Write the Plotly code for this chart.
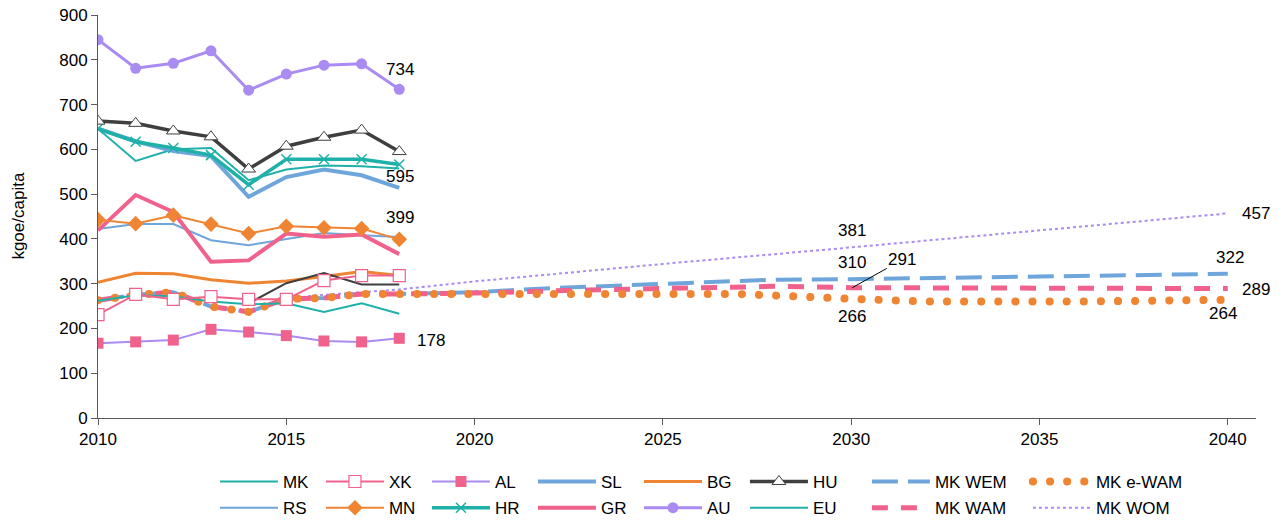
import plotly.graph_objects as go

# historical years 2010-2018
years = [2010, 2011, 2012, 2013, 2014, 2015, 2016, 2017, 2018]

mk = [262, 274, 272, 260, 254, 256, 237, 256, 233]
xk = [231, 276, 265, 271, 265, 265, 307, 318, 318]
al = [167, 170, 174, 198, 192, 184, 172, 170, 178]
sl = [646, 618, 596, 585, 494, 538, 555, 542, 514]
bg = [303, 323, 322, 309, 301, 306, 316, 327, 318]
hu = [663, 658, 641, 628, 556, 607, 627, 643, 595]
rs = [422, 433, 433, 397, 386, 399, 413, 408, 404]
mn = [443, 434, 453, 433, 412, 428, 425, 423, 399]
hr = [646, 617, 603, 587, 521, 578, 578, 578, 566]
gr = [419, 498, 460, 349, 352, 412, 405, 410, 366]
au = [845, 781, 792, 820, 732, 768, 788, 791, 734]
eu = [646, 574, 600, 603, 531, 555, 564, 562, 557]

# unlabelled thin dark line
extra_years = [2014, 2015, 2016, 2017, 2018]
extra = [256, 301, 324, 298, 298]

# MK scenario series (history + projection)
base = [263, 275, 281, 249, 237, 266, 268, 277, 277]
wem_years = years + [2020, 2022, 2025, 2028, 2030, 2035, 2040]
wem = base + [281, 290, 300, 309, 310, 316, 322]
wam_years = years + [2020, 2023, 2026, 2028, 2030, 2035, 2040]
wam = base + [279, 286, 292, 294, 291, 290, 289]
ewam_years = years + [2020, 2024, 2027, 2030, 2032, 2036, 2040]
ewam = base + [277, 280, 277, 266, 260, 260, 264]
wom_years = years + [2020, 2025, 2030, 2035, 2040]
wom = [263, 275, 281, 249, 237, 267, 275, 281, 287] + [305, 344, 381, 419, 457]

TEAL = '#1fb1a9'
PINK = '#f0628c'
PURPLE = '#a98bf2'
BLUE = '#6ea6dc'
ORANGE = '#ef8532'
DARK = '#3f3f3f'

fig = go.Figure()


def add(x, y, name, legend, color, width, dash='solid', marker=None, show=True):
    mode = 'lines+markers' if marker else 'lines'
    fig.add_trace(go.Scatter(x=x, y=y, name=name, mode=mode, legend=legend,
                             showlegend=show,
                             line=dict(color=color, width=width, dash=dash),
                             marker=marker))


# projections underneath
add(wom_years, wom, 'MK WOM', 'legend4', PURPLE, 2, dash='dot')
add(wem_years, wem, 'MK WEM', 'legend3', BLUE, 4, dash='26px,10px')
add(wam_years, wam, 'MK WAM', 'legend4', PINK, 5, dash='16px,13px')
add(ewam_years, ewam, 'MK e-WAM', 'legend3', ORANGE, 8, dash='8px,9px')

add(years, eu, 'EU', 'legend2', TEAL, 2)
add(years, mk, 'MK', 'legend', TEAL, 2)
add(years, rs, 'RS', 'legend2', BLUE, 2)
add(years, sl, 'SL', 'legend', BLUE, 4)
add(years, bg, 'BG', 'legend', ORANGE, 3)
add(years, gr, 'GR', 'legend2', PINK, 4)
add(extra_years, extra, 'extra', 'legend', DARK, 2, show=False)
add(years, mn, 'MN', 'legend2', ORANGE, 2,
    marker=dict(symbol='diamond', size=12, color=ORANGE))
add(years, hr, 'HR', 'legend2', TEAL, 3.5,
    marker=dict(symbol='x-thin', size=10, line=dict(color=TEAL, width=1.5)))
add(years, hu, 'HU', 'legend', DARK, 3.5,
    marker=dict(symbol='triangle-up', size=12, color='white',
                line=dict(color=DARK, width=1)))
add(years, xk, 'XK', 'legend', PINK, 2,
    marker=dict(symbol='square', size=12, color='white',
                line=dict(color=PINK, width=1.2)))
add(years, al, 'AL', 'legend', PURPLE, 2,
    marker=dict(symbol='square', size=11, color=PINK))
add(years, au, 'AU', 'legend2', PURPLE, 3,
    marker=dict(symbol='circle', size=11, color=PURPLE))

# legend order inside each row
order = {'MK': 1, 'XK': 2, 'AL': 3, 'SL': 4, 'BG': 5, 'HU': 6,
         'RS': 1, 'MN': 2, 'HR': 3, 'GR': 4, 'AU': 5, 'EU': 6,
         'MK WEM': 1, 'MK e-WAM': 2, 'MK WAM': 1, 'MK WOM': 2}
for tr in fig.data:
    tr.legendrank = order.get(tr.name, 99)

# value labels
labels = [
    (2018.02, 779, '734'), (2018.02, 540, '595'), (2018.02, 448, '399'),
    (2018.84, 174, '178'), (2030.02, 419, '381'), (2030.02, 348, '310'),
    (2030.02, 227, '266'), (2040.75, 457, '457'), (2040.06, 358, '322'),
    (2040.75, 288, '289'), (2039.87, 234, '264'),
]
for lx, ly, txt in labels:
    fig.add_annotation(x=lx, y=ly, text=txt, showarrow=False,
                       font=dict(size=17, color='black'))
fig.add_annotation(x=2030.03, y=291, text='291', showarrow=True, arrowhead=0,
                   arrowwidth=1, arrowcolor='black', ax=50, ay=-28,
                   font=dict(size=17, color='black'))
fig.add_annotation(x=-0.069, y=0.5, xref='paper', yref='paper', text='kgoe/capita',
                   xanchor='center', yanchor='middle',
                   textangle=-90, showarrow=False, font=dict(size=17, color='black'))

leg = dict(orientation='h', xanchor='left', yanchor='top', itemwidth=58,
           bgcolor='rgba(0,0,0,0)', font=dict(size=17))
fig.update_layout(
    width=1285, height=521,
    margin=dict(l=98, r=29, t=15, b=103, autoexpand=False),
    plot_bgcolor='white', paper_bgcolor='white',
    font=dict(family='Liberation Sans, Arial, sans-serif', size=17, color='black'),
    xaxis=dict(range=[2010, 2040.75], tickvals=[2010, 2015, 2020, 2025, 2030, 2035, 2040],
               showgrid=False, zeroline=False, showline=True, linecolor='#595959',
               ticks='outside', ticklen=6, tickcolor='#595959', automargin=False),
    yaxis=dict(range=[0, 900], dtick=100, showgrid=False, zeroline=False,
               showline=True, linecolor='#595959', ticks='outside', ticklen=6,
               tickcolor='#595959', automargin=False, ticklabeloverflow='allow'),
    legend=dict(leg, x=0.101, y=-0.114, entrywidth=33),
    legend2=dict(leg, x=0.101, y=-0.179, entrywidth=33),
    legend3=dict(leg, x=0.664, y=-0.114, entrywidth=88),
    legend4=dict(leg, x=0.664, y=-0.179, entrywidth=88),
)

# no page margin, and round caps for the e-WAM dotted line
post = """
document.body.style.margin = '0';
var gd = document.querySelector('.plotly-graph-div');
function roundDots() {
  gd.querySelectorAll('path').forEach(function (p) {
    var d = (p.style.strokeDasharray || '').replace(/\\s/g, '');
    if (d === '8px,9px') {
      p.style.strokeLinecap = 'round';
      p.style.strokeDasharray = '0.1px,17px';
    }
  });
}
roundDots();
gd.on('plotly_afterplot', roundDots);
"""
fig.write_html("out.html", post_script=post, config={'displayModeBar': False})
